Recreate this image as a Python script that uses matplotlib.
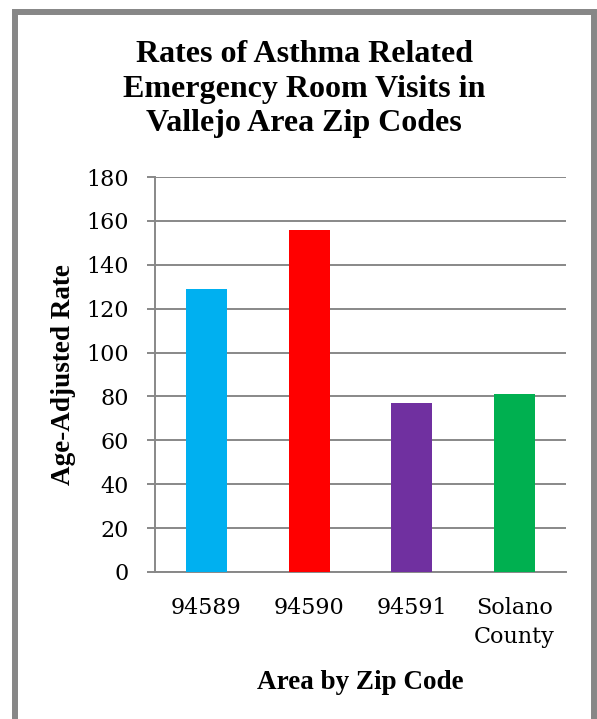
import matplotlib
matplotlib.use("Agg")
import matplotlib.pyplot as plt
from matplotlib.patches import Rectangle

areas = ["94589", "94590", "94591", "Solano\nCounty"]
rates = [129, 156, 77, 81]
bar_colors = ["#00B0F0", "#FF0000", "#7030A0", "#00B050"]
y_ticks = [0, 20, 40, 60, 80, 100, 120, 140, 160, 180]

W, H = 597, 719
fig = plt.figure(figsize=(W / 100, H / 100), dpi=100)
ax = fig.add_axes([155 / W, 1 - 572 / H, 411 / W, 395 / H])

ax.bar(range(len(areas)), rates, width=0.4, color=bar_colors, zorder=3)
ax.set_xlim(-0.5, len(areas) - 0.5)
ax.set_ylim(0, 180)
ax.set_yticks(y_ticks)
ax.set_xticks(range(len(areas)))
ax.set_xticklabels(areas, family="DejaVu Serif", fontsize=16, linespacing=1.4)
ax.set_yticklabels([str(v) for v in y_ticks], family="DejaVu Serif", fontsize=16)

grid_gray = "#888888"
ax.grid(axis="y", color=grid_gray, linewidth=1.4, zorder=0)
for side in ["top", "right"]:
    ax.spines[side].set_visible(False)
ax.spines["left"].set_color(grid_gray)
ax.spines["left"].set_linewidth(1.4)
ax.spines["bottom"].set_color(grid_gray)
ax.spines["bottom"].set_linewidth(1.4)
ax.tick_params(axis="y", length=6, width=1.4, color=grid_gray, pad=13)
ax.tick_params(axis="x", length=0, pad=18)

ax.set_xlabel("Area by Zip Code", family="Liberation Serif", fontweight="bold",
              fontsize=19.5, labelpad=16)
ax.set_ylabel("Age-Adjusted Rate", family="Liberation Serif", fontweight="bold",
              fontsize=19.5, labelpad=7)

fig.text(304 / W, 1 - 89 / H,
         "Rates of Asthma Related\nEmergency Room Visits in\nVallejo Area Zip Codes",
         ha="center", va="center", family="Liberation Serif", fontweight="bold",
         fontsize=23, linespacing=1.25)

# gray frame around the chart area
frame = Rectangle((15 / W, -0.05), 579 / W, 1.05 - 12 / H, transform=fig.transFigure,
                  fill=False, edgecolor="#878787", linewidth=4.3, clip_on=False)
fig.patches.append(frame)

fig.savefig("out.png", dpi=100)
